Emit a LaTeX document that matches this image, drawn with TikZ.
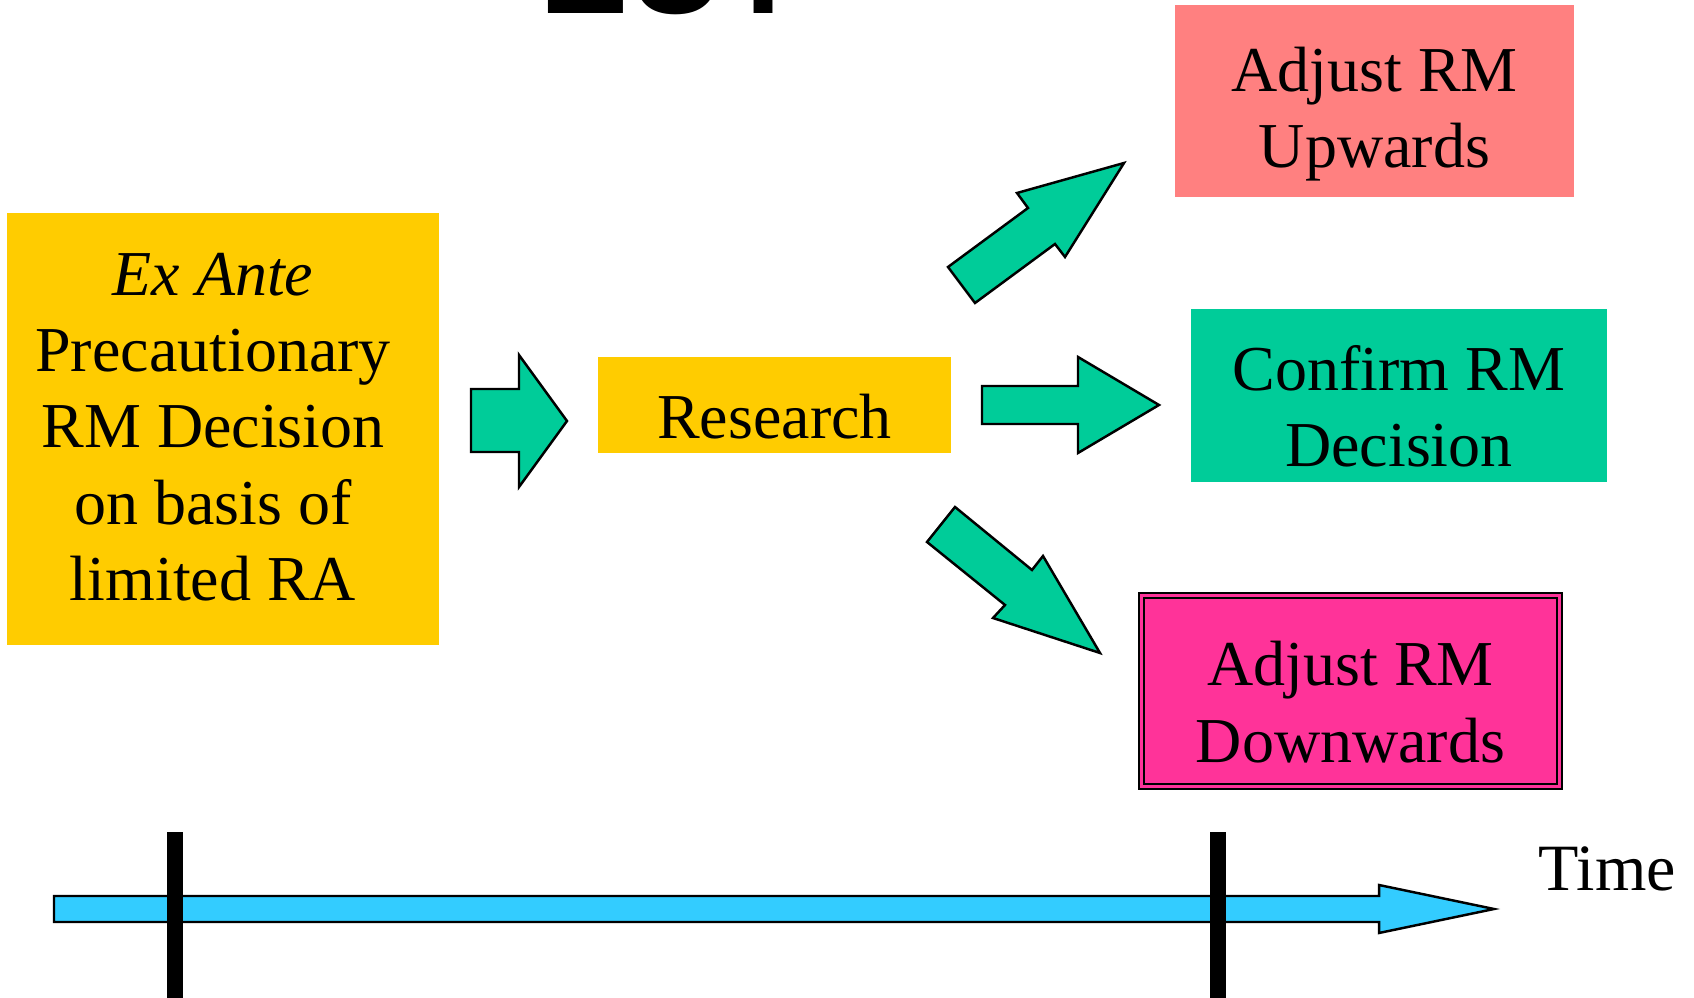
\documentclass[tikz,border=0pt]{standalone}
\usepackage{fontspec}
\setmainfont{Liberation Serif}
\newfontfamily\headfont{Liberation Sans}
\definecolor{gold}{HTML}{FFCC00}
\definecolor{upred}{HTML}{FF8080}
\definecolor{confirmgreen}{HTML}{00CC99}
\definecolor{downpink}{HTML}{FF3399}
\definecolor{timeblue}{HTML}{33CCFF}
\begin{document}
\begin{tikzpicture}[x=0.01cm, y=-0.01cm,
    box/.style={inner sep=0pt, align=center, font=\fontsize{18.2}{21.7}\selectfont},
    fatarrow/.style={draw, line width=0.7pt, fill=confirmgreen, line join=miter},
    tick/.style={line width=0.16cm}]
  \useasboundingbox (0,0) rectangle (1694,998);
  % title, cut off by the top of the page
  \node [anchor=base west, inner sep=0pt, font=\headfont\bfseries\fontsize{38}{38}\selectfont] (title) at (539,14) {EU?};
  % boxes
  \node [box, fill=gold, minimum width=4.31cm, minimum height=4.32cm] (exante) at (223,429) {};
  \node [box] (exantetext) at (213,427) {\textit{Ex Ante}\\Precautionary\\RM Decision\\on basis of\\limited RA};
  \node [box, fill=gold, minimum width=3.53cm, minimum height=0.96cm] (research) at (774.5,405) {};
  \node [box] (researchtext) at (774.5,417) {Research};
  \node [box, fill=upred, minimum width=3.99cm, minimum height=1.92cm] (up) at (1374.5,101) {};
  \node [box] (uptext) at (1374.5,114) {Adjust RM\\Upwards};
  \node [box, fill=confirmgreen, minimum width=4.16cm, minimum height=1.73cm] (confirm) at (1399,395.5) {};
  \node [box] (confirmtext) at (1399,406.5) {Confirm RM\\Decision};
  \node [box, fill=downpink, draw, line width=0.57pt, double=downpink, double distance=0.95pt,
    minimum width=4.18cm, minimum height=1.91cm] (down) at (1350.5,691) {};
  \node [box] (downtext) at (1350.5,702) {Adjust RM\\Downwards};
  % block arrows
  \draw [fatarrow] (471,389) -- (519,389) -- (519,355) -- (567,421) -- (519,487) -- (519,452) -- (471,452) -- cycle;
  \draw [fatarrow] (982,386) -- (1078,386) -- (1078,357) -- (1159,405) -- (1078,453) -- (1078,424) -- (982,424) -- cycle;
  \draw [fatarrow] (948,267) -- (1028,208) -- (1017,193) -- (1124,163) -- (1065,257) -- (1055,244) -- (975,303) -- cycle;
  \draw [fatarrow] (955,507) -- (1032,570) -- (1043,556) -- (1100,653) -- (993,618) -- (1005,605) -- (927,542) -- cycle;
  % time line
  \draw [line width=0.7pt, fill=timeblue, line join=miter] (54,896) -- (1379,896) -- (1379,885) -- (1494,909)
    -- (1379,933) -- (1379,922) -- (54,922) -- cycle;
  \coordinate (start) at (175,998);
  \coordinate (end) at (1218,998);
  \draw [tick] (start) -- ++(0,-166);
  \draw [tick] (end) -- ++(0,-166);
  \node [anchor=base west, inner sep=0pt, font=\fontsize{18.8}{21.7}\selectfont] (time) at (1538,890) {Time};
\end{tikzpicture}
\end{document}
